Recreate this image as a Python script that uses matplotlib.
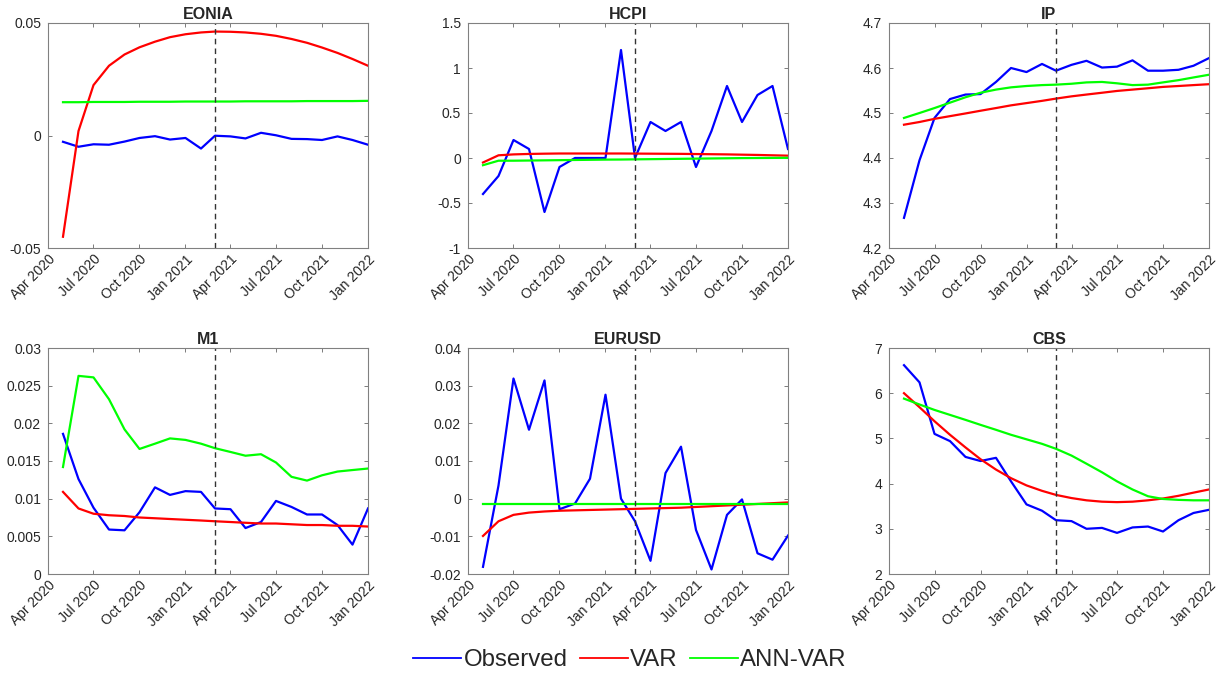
import datetime as dt
import numpy as np
import matplotlib
matplotlib.use("Agg")
import matplotlib.pyplot as plt
import matplotlib.dates as mdates
from matplotlib.lines import Line2D

plt.rcParams['font.family'] = ['Liberation Sans', 'DejaVu Sans']

# monthly dates May 2020 .. Jan 2022
dates = [dt.datetime(2020 + (4 + i) // 12, (4 + i) % 12 + 1, 1) for i in range(21)]
split_date = dt.datetime(2021, 3, 1)

titles = ["EONIA", "HCPI", "IP", "M1", "EURUSD", "CBS"]

eonia_obs = [-0.0028, -0.0050, -0.0039, -0.0041, -0.0027, -0.0011, -0.0003, -0.0018, -0.0011, -0.0058,
             -0.0001, -0.0004, -0.0013, 0.0012, 0.0001, -0.0015, -0.0016, -0.0020, -0.0004, -0.0020, -0.0041]
eonia_var = [-0.0450, 0.0020, 0.0224, 0.0310, 0.0360, 0.0392, 0.0417, 0.0437, 0.0450, 0.0458,
             0.0462, 0.0461, 0.0458, 0.0452, 0.0443, 0.0429, 0.0412, 0.0391, 0.0367, 0.0340, 0.0310]
eonia_ann = [0.0148, 0.0148, 0.0149, 0.0149, 0.0149, 0.0150, 0.0150, 0.0150, 0.0151, 0.0151,
             0.0151, 0.0151, 0.0152, 0.0152, 0.0152, 0.0152, 0.0153, 0.0153, 0.0153, 0.0153, 0.0154]

hcpi_obs = [-0.4, -0.2, 0.2, 0.1, -0.6, -0.1, 0.0, 0.0, 0.0, 1.2,
            0.0, 0.4, 0.3, 0.4, -0.1, 0.3, 0.8, 0.4, 0.7, 0.8, 0.1]
hcpi_var = [-0.05, 0.03, 0.040, 0.045, 0.048, 0.050, 0.050, 0.050, 0.050, 0.050,
            0.049, 0.048, 0.047, 0.046, 0.044, 0.042, 0.040, 0.037, 0.034, 0.030, 0.026]
hcpi_ann = [-0.08, -0.03, -0.030, -0.028, -0.026, -0.024, -0.022, -0.020, -0.018, -0.017,
            -0.015, -0.013, -0.011, -0.009, -0.007, -0.005, -0.003, -0.001, 0.000, 0.001, 0.002]

ip_obs = [4.267, 4.395, 4.489, 4.531, 4.541, 4.542, 4.569, 4.600, 4.591, 4.609,
          4.594, 4.607, 4.616, 4.601, 4.603, 4.617, 4.594, 4.594, 4.596, 4.605, 4.622]
ip_var = [4.474, 4.480, 4.487, 4.493, 4.499, 4.505, 4.511, 4.517, 4.522, 4.527,
          4.532, 4.537, 4.541, 4.545, 4.549, 4.552, 4.555, 4.558, 4.560, 4.562, 4.564]
ip_ann = [4.489, 4.500, 4.511, 4.523, 4.535, 4.545, 4.552, 4.557, 4.560, 4.562,
          4.563, 4.565, 4.568, 4.569, 4.566, 4.562, 4.563, 4.568, 4.573, 4.579, 4.585]

m1_obs = [0.0186, 0.0126, 0.0088, 0.0059, 0.0058, 0.0082, 0.0115, 0.0105, 0.0110, 0.0109,
          0.0087, 0.0086, 0.0061, 0.0069, 0.0097, 0.0089, 0.0079, 0.0079, 0.0065, 0.0039, 0.0087]
m1_var = [0.0109, 0.0087, 0.0080, 0.0078, 0.0077, 0.0075, 0.0074, 0.0073, 0.0072, 0.0071,
          0.0070, 0.0069, 0.0068, 0.0067, 0.0067, 0.0066, 0.0065, 0.0065, 0.0064, 0.0064, 0.0063]
m1_ann = [0.0142, 0.0263, 0.0261, 0.0232, 0.0192, 0.0166, 0.0173, 0.0180, 0.0178, 0.0173,
          0.0167, 0.0162, 0.0157, 0.0159, 0.0148, 0.0129, 0.0124, 0.0131, 0.0136, 0.0138, 0.0140]

eurusd_obs = [-0.0181, 0.0035, 0.0319, 0.0183, 0.0314, -0.0028, -0.0013, 0.0053, 0.0276, 0.0000,
              -0.0060, -0.0165, 0.0068, 0.0138, -0.0083, -0.0188, -0.0043, -0.0002, -0.0145, -0.0162, -0.0098]
eurusd_var = [-0.0099, -0.0060, -0.0043, -0.0037, -0.0034, -0.0032, -0.0031, -0.0030, -0.0029, -0.0028,
              -0.0027, -0.0026, -0.0025, -0.0024, -0.0022, -0.0020, -0.0018, -0.0016, -0.0014, -0.0012, -0.0010]
eurusd_ann = [-0.0013] * 21

cbs_obs = [6.62, 6.24, 5.10, 4.94, 4.59, 4.50, 4.57, 4.05, 3.54, 3.40,
           3.19, 3.17, 3.00, 3.02, 2.91, 3.03, 3.05, 2.94, 3.19, 3.35, 3.42]
cbs_var = [6.00, 5.69, 5.38, 5.08, 4.80, 4.54, 4.31, 4.12, 3.96, 3.84,
           3.75, 3.68, 3.63, 3.60, 3.59, 3.60, 3.63, 3.67, 3.73, 3.80, 3.87]
cbs_ann = [5.88, 5.75, 5.63, 5.52, 5.41, 5.30, 5.19, 5.08, 4.98, 4.88,
           4.77, 4.62, 4.44, 4.25, 4.05, 3.87, 3.72, 3.66, 3.64, 3.63, 3.63]

observed = [eonia_obs, hcpi_obs, ip_obs, m1_obs, eurusd_obs, cbs_obs]
var_fc = [eonia_var, hcpi_var, ip_var, m1_var, eurusd_var, cbs_var]
ann_fc = [eonia_ann, hcpi_ann, ip_ann, m1_ann, eurusd_ann, cbs_ann]

ylims = [(-0.05, 0.05), (-1, 1.5), (4.2, 4.7), (0, 0.03), (-0.02, 0.04), (2, 7)]
yticks = [[-0.05, 0, 0.05], [-1, -0.5, 0, 0.5, 1, 1.5], [4.2, 4.3, 4.4, 4.5, 4.6, 4.7],
          [0, 0.005, 0.01, 0.015, 0.02, 0.025, 0.03], [-0.02, -0.01, 0, 0.01, 0.02, 0.03, 0.04],
          [2, 3, 4, 5, 6, 7]]
yticklabels = [["-0.05", "0", "0.05"], ["-1", "-0.5", "0", "0.5", "1", "1.5"],
               ["4.2", "4.3", "4.4", "4.5", "4.6", "4.7"],
               ["0", "0.005", "0.01", "0.015", "0.02", "0.025", "0.03"],
               ["-0.02", "-0.01", "0", "0.01", "0.02", "0.03", "0.04"],
               ["2", "3", "4", "5", "6", "7"]]

xticks = [dt.datetime(2020, 4, 1), dt.datetime(2020, 7, 1), dt.datetime(2020, 10, 1),
          dt.datetime(2021, 1, 1), dt.datetime(2021, 4, 1), dt.datetime(2021, 7, 1),
          dt.datetime(2021, 10, 1), dt.datetime(2022, 1, 1)]

BLUE, RED, GREEN = '#0000ff', '#ff0000', '#00ff00'
TXT = '#262626'

fig = plt.figure(figsize=(12.26, 6.75), dpi=100)
W, H = 1226, 675
lefts = [48, 468, 889]
rights = [368, 788, 1209]
tops = [23, 348]
bottoms = [248, 574]

for k in range(6):
    r, c = divmod(k, 3)
    ax = fig.add_axes([lefts[c] / W, 1 - bottoms[r] / H,
                       (rights[c] - lefts[c]) / W, (bottoms[r] - tops[r]) / H])
    ax.plot(dates, observed[k], color=BLUE, lw=1.6)
    ax.plot(dates, var_fc[k], color=RED, lw=1.6)
    ax.plot(dates, ann_fc[k], color=GREEN, lw=1.6)
    ax.axvline(split_date, color='#333333', ls=(0, (4, 3)), lw=1.0)

    ax.set_xlim(xticks[0], xticks[-1])
    ax.set_ylim(*ylims[k])
    ax.set_yticks(yticks[k])
    ax.set_yticklabels(yticklabels[k])
    ax.set_xticks(xticks)
    ax.xaxis.set_major_formatter(mdates.DateFormatter('%b %Y'))
    plt.setp(ax.get_xticklabels(), rotation=45, ha='right', va='top', rotation_mode='anchor')

    ax.tick_params(direction='in', length=3, width=0.6, color='#666666', labelsize=10,
                   labelcolor=TXT, top=True, right=True)
    ax.tick_params(axis='y', pad=5)
    ax.tick_params(axis='x', pad=3)
    for s in ax.spines.values():
        s.set_color('#808080')
        s.set_linewidth(0.8)
    ax.set_title(titles[k], fontsize=11.5, fontweight='bold', color=TXT, pad=3)

handles = [Line2D([], [], color=BLUE, lw=1.3), Line2D([], [], color=RED, lw=1.3),
           Line2D([], [], color=GREEN, lw=1.3)]
fig.legend(handles, ["Observed", "VAR", "ANN-VAR"], loc='center', bbox_to_anchor=(0.514, 1 - 660 / H),
           ncol=3, frameon=False, fontsize=17.3, handlelength=2.0, handletextpad=0.1,
           columnspacing=0.5, labelcolor=TXT)

fig.savefig('out.png', dpi=100)
